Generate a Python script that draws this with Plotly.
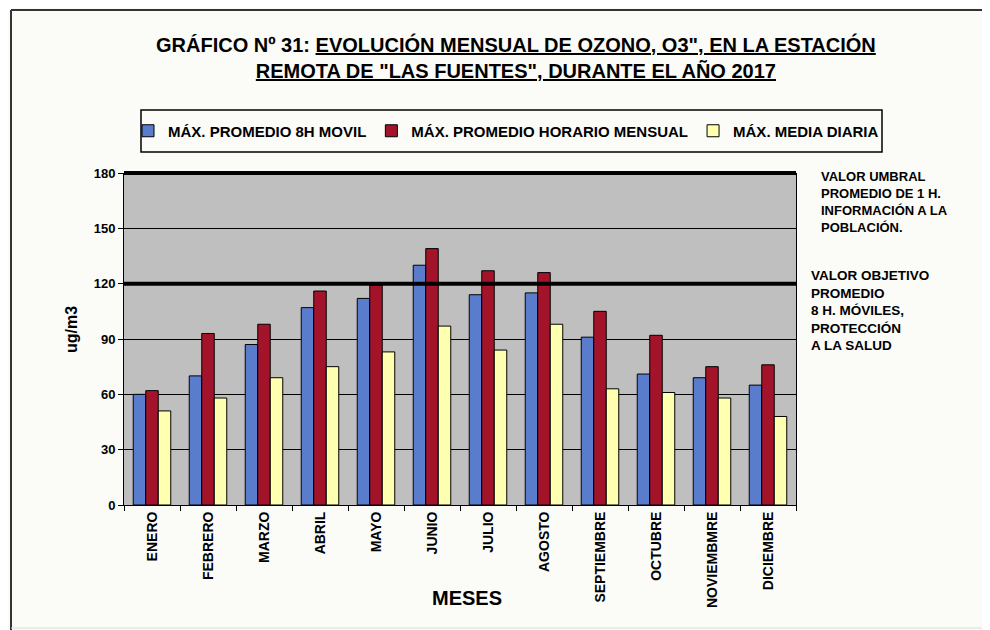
import plotly.graph_objects as go

# Data
meses = ["ENERO", "FEBRERO", "MARZO", "ABRIL", "MAYO", "JUNIO", "JULIO",
         "AGOSTO", "SEPTIEMBRE", "OCTUBRE", "NOVIEMBMRE", "DICIEMBRE"]
max_8h_movil = [60, 70, 87, 107, 112, 130, 114, 115, 91, 71, 69, 65]
max_horario = [62, 93, 98, 116, 119, 139, 127, 126, 105, 92, 75, 76]
max_media_diaria = [51, 58, 69, 75, 83, 97, 84, 98, 63, 61, 58, 48]
umbral_info = 180
objetivo_8h = 120
y_max = 180

# the page body adds an 8px margin, so the figure is drawn 8px smaller
OFF = 8
W, H = 990 - OFF, 630 - OFF
L, R, T, B = 124 - OFF, 796 - OFF, 173 - OFF, 505 - OFF  # plot area

FONT = "Liberation Sans, Arial, sans-serif"


def px(x):
    # page pixel -> paper x
    return (x - OFF - L) / (R - L)


def py(y):
    # page pixel -> paper y
    return (B - (y - OFF)) / (B - T)


fig = go.Figure()
series = [
    ("MÁX. PROMEDIO 8H MOVIL", max_8h_movil, "#5a7ccd"),
    ("MÁX. PROMEDIO HORARIO MENSUAL", max_horario, "#a3142b"),
    ("MÁX. MEDIA DIARIA", max_media_diaria, "#ffffb0"),
]
for name, vals, col in series:
    fig.add_trace(go.Bar(
        x=meses, y=vals, name=name,
        marker=dict(color=col, line=dict(color="black", width=1)),
    ))

# thick reference lines over the bars (paper refs so the top one isn't clipped)
for val in (umbral_info, objetivo_8h):
    fig.add_shape(type="line", xref="paper", yref="paper", x0=0, x1=1,
                  y0=val / y_max, y1=val / y_max,
                  line=dict(color="black", width=4), layer="above")

# outer frame of the scanned page
frame = dict(type="line", xref="paper", yref="paper")
fig.add_shape(**frame, x0=px(11), x1=px(11), y0=py(10), y1=py(630),
              line=dict(color="#333", width=2))
fig.add_shape(**frame, x0=px(11), x1=px(990), y0=py(10), y1=py(10),
              line=dict(color="#333", width=2))
fig.add_shape(**frame, x0=px(11), x1=px(990), y0=py(628), y1=py(628),
              line=dict(color="#ddd", width=1))
# legend box
fig.add_shape(type="rect", xref="paper", yref="paper",
              x0=px(141), x1=px(882), y0=py(110), y1=py(152),
              line=dict(color="black", width=1.5), fillcolor="#fbfbf7",
              layer="below")

fig.add_annotation(
    xref="paper", yref="paper", x=px(516), y=py(58),
    text=("<b>GRÁFICO Nº 31: <u>EVOLUCIÓN MENSUAL DE OZONO, O3\", EN LA ESTACIÓN</u>"
          "<br><u>REMOTA DE \"LAS FUENTES\", DURANTE EL AÑO 2017</u></b>"),
    showarrow=False, font=dict(size=20, color="black", family=FONT),
    align="center", xanchor="center", yanchor="middle",
)
fig.add_annotation(
    xref="paper", yref="paper", x=px(819), y=py(167),
    text="<b>VALOR UMBRAL<br>PROMEDIO DE 1 H.<br>INFORMACIÓN A LA<br>POBLACIÓN.</b>",
    showarrow=False, font=dict(size=13, color="black", family=FONT),
    align="left", xanchor="left", yanchor="top",
)
fig.add_annotation(
    xref="paper", yref="paper", x=px(809), y=py(266),
    text="<b>VALOR OBJETIVO<br>PROMEDIO<br>8 H. MÓVILES,<br>PROTECCIÓN<br>A LA SALUD</b>",
    showarrow=False, font=dict(size=13.5, color="black", family=FONT),
    align="left", xanchor="left", yanchor="top",
)
fig.add_annotation(
    xref="paper", yref="paper", x=px(467), y=py(598),
    text="<b>MESES</b>", showarrow=False,
    font=dict(size=20, color="black", family=FONT),
    xanchor="center", yanchor="middle",
)
fig.add_annotation(
    xref="paper", yref="paper", x=px(71), y=py(330),
    text="<b>ug/m3</b>", showarrow=False, textangle=-90,
    font=dict(size=16, color="black", family=FONT),
    xanchor="center", yanchor="middle",
)

fig.update_layout(
    width=W, height=H,
    margin=dict(l=L, r=W - R, t=T, b=H - B, pad=0),
    paper_bgcolor="#fbfbf7",
    plot_bgcolor="#bfbfbf",
    barmode="group",
    bargap=0.33,
    bargroupgap=0,
    font=dict(family=FONT, color="black"),
    showlegend=True,
    # right-anchored beyond the plot area so the single row doesn't wrap
    legend=dict(
        orientation="h", x=px(884), y=py(131), xanchor="right", yanchor="middle",
        bgcolor="rgba(0,0,0,0)", borderwidth=0,
        font=dict(size=15, family=FONT, color="black", weight="bold"),
        itemwidth=30, traceorder="normal",
    ),
    xaxis=dict(
        type="category", tickangle=-90, tickson="boundaries",
        ticks="outside", ticklen=5, tickcolor="black",
        showline=True, linecolor="black", linewidth=1,
        tickfont=dict(size=14, family=FONT, color="black", weight="bold"),
        showgrid=False,
    ),
    yaxis=dict(
        range=[0, y_max], tick0=0, dtick=30,
        ticks="outside", ticklen=5, tickcolor="black",
        showline=True, linecolor="black", linewidth=1, mirror=True,
        gridcolor="black", gridwidth=1, zeroline=False,
        tickfont=dict(size=13, family=FONT, color="black", weight="bold"),
    ),
)

fig.write_html("out.html")
